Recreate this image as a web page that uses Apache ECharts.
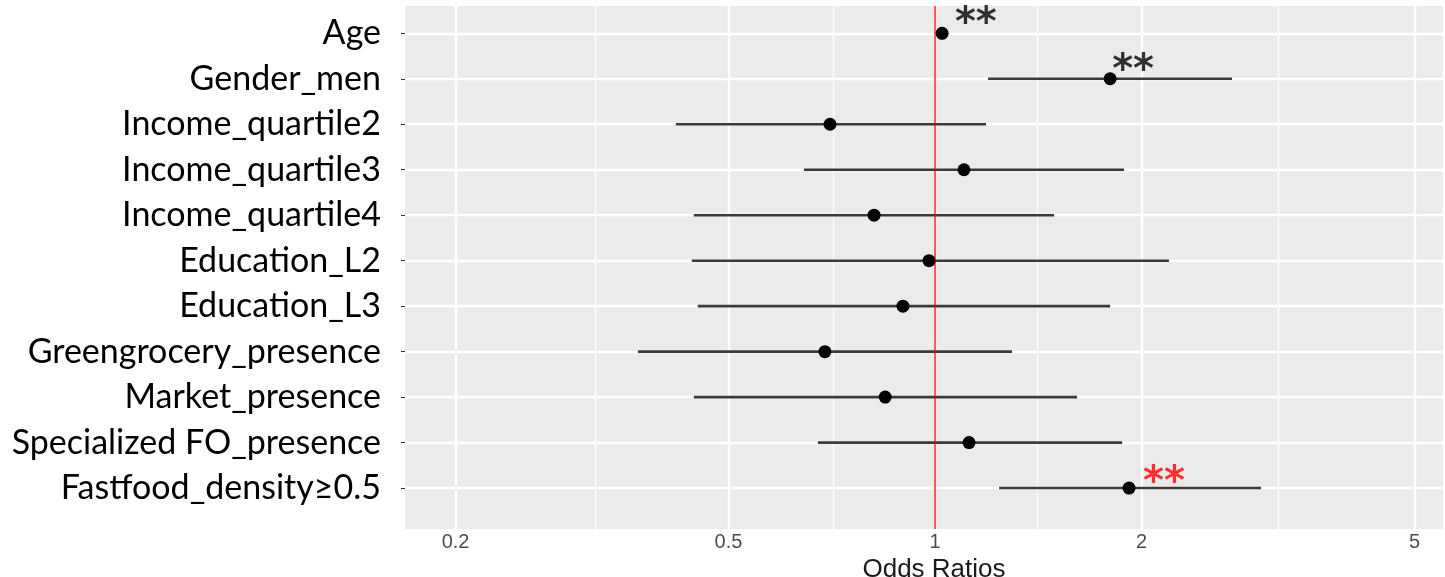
<!DOCTYPE html>
<html>
<head>
<meta charset="utf-8">
<script src="https://cdn.jsdelivr.net/npm/echarts@6/dist/echarts.min.js"></script>
<style>
html,body{margin:0;padding:0;background:#fff;}
#chart{width:1445px;height:577px;}
</style>
</head>
<body>
<div id="chart"></div>
<script>
// ---- data ----
var categories = ['Age','Gender_men','Income_quartile2','Income_quartile3','Income_quartile4','Education_L2','Education_L3','Greengrocery_presence','Market_presence','Specialized FO_presence','Fastfood_density\u22650.5'];
var oddsRatio = [1.024, 1.800, 0.703, 1.102, 0.815, 0.980, 0.898, 0.691, 0.846, 1.121, 1.918];
var ciLower   = [1.010, 1.195, 0.419, 0.644, 0.445, 0.442, 0.451, 0.369, 0.445, 0.675, 1.240];
var ciUpper   = [1.040, 2.710, 1.187, 1.886, 1.491, 2.193, 1.800, 1.295, 1.611, 1.874, 2.987];
var xTickValues = [0.2, 0.5, 1, 2, 5];
var xMinorValues = [0.3162, 0.7071, 1.4142, 3.1623];
var refValue = 1;
// significance annotations (text placed at OR / row coordinates)
var sigText = ['**', '**', '**'];
var sigX    = [1.147, 1.944, 2.157];
var sigRow  = [-0.4, 0.63, 9.69];
var sigColor = ['#000000', '#000000', '#FF0000'];

var rowIdx = categories.map(function(_, i){ return i; });
var yMin = -0.6, yMax = 10.9;

var chart = echarts.init(document.getElementById('chart'), null, {renderer:'canvas'});

var gridMarks = [];
xTickValues.forEach(function(v){ gridMarks.push({xAxis: v, lineStyle:{color:'#FFFFFF', width:2.4}}); });
xMinorValues.forEach(function(v){ gridMarks.push({xAxis: v, lineStyle:{color:'#FFFFFF', width:1.2}}); });
rowIdx.forEach(function(i){ gridMarks.push({yAxis: i, lineStyle:{color:'#FFFFFF', width:2.4}}); });

var option = {
  animation: false,
  backgroundColor: '#FFFFFF',
  grid: {left: 405, right: 2, top: 6, bottom: 48, show: true, backgroundColor: '#EBEBEB', borderWidth: 0,
    containLabel: false, outerBoundsMode: 'none'},
  xAxis: {
    type: 'log', min: 0.1688, max: 5.502,
    axisLine: {show: false},
    splitLine: {show: false},
    minorSplitLine: {show: false},
    axisTick: {show: true, length: 4, lineStyle: {color: '#333333', width: 1}, customValues: xTickValues},
    axisLabel: {customValues: xTickValues, color: '#4D4D4D', fontFamily: 'Liberation Sans, Arial, sans-serif', fontSize: 20, margin: 3,
      formatter: function(v){ return String(+v.toPrecision(6)); }},
    name: 'Odds Ratios', nameLocation: 'middle', nameGap: 17,
    nameTextStyle: {color: '#1A1A1A', fontFamily: 'Liberation Sans, Arial, sans-serif', fontSize: 26, padding: [0, 0, 0, 20]}
  },
  yAxis: {
    type: 'value', min: yMin, max: yMax, inverse: true,
    axisLine: {show: false},
    splitLine: {show: false},
    axisTick: {show: true, length: 4, lineStyle: {color: '#333333', width: 1}, customValues: rowIdx},
    axisLabel: {customValues: rowIdx, color: '#000000', fontFamily: 'Lato, Carlito, sans-serif', fontSize: 34, margin: 24,
      formatter: function(v){ return categories[Math.round(v)]; }}
  },
  series: [
    {
      type: 'line', data: [], silent: true, z: 1,
      markLine: {silent: true, z: 1, symbol: ['none','none'], label: {show: false}, animation: false,
        lineStyle: {type: 'solid'}, data: gridMarks}
    },
    {
      type: 'custom', z: 3, silent: true,
      data: rowIdx.map(function(i){ return [ciLower[i], ciUpper[i], i]; }),
      encode: {x: [0, 1], y: 2},
      renderItem: function(params, api){
        var p1 = api.coord([api.value(0), api.value(2)]);
        var p2 = api.coord([api.value(1), api.value(2)]);
        return {type: 'line', shape: {x1: p1[0], y1: p1[1], x2: p2[0], y2: p2[1]},
          style: {stroke: '#3A3A3A', lineWidth: 2.6}};
      }
    },
    {
      type: 'line', silent: true, z: 4, showSymbol: false, symbol: 'none',
      lineStyle: {color: '#FF0000', width: 1.3, opacity: 1},
      itemStyle: {color: '#FF0000'},
      data: [[refValue, yMin], [refValue, yMax]]
    },
    {
      type: 'scatter', z: 5, silent: true, symbol: 'circle', symbolSize: 13,
      itemStyle: {color: '#000000', opacity: 1},
      data: rowIdx.map(function(i){ return [oddsRatio[i], i]; })
    },
    {
      type: 'scatter', z: 6, silent: true, symbolSize: 0,
      data: sigText.map(function(t, k){
        return {value: [sigX[k], sigRow[k]],
          label: {show: true, position: 'inside', formatter: t, color: sigColor[k],
            fontFamily: 'DejaVu Sans, sans-serif', fontWeight: 'bold', fontSize: 40, offset: [0, 10]}};
      })
    }
  ]
};
chart.setOption(option);
</script>
</body>
</html>
